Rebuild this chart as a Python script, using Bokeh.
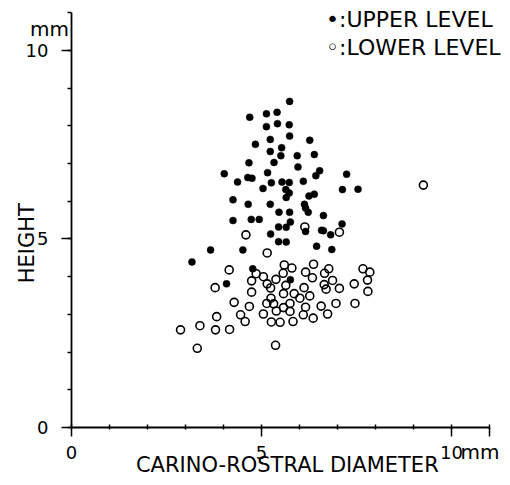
from bokeh.plotting import figure
from bokeh.models import Range1d, FixedTicker, Label
from bokeh.embed import file_html
from bokeh.resources import INLINE
import math

# Upper level (filled) measurements: carino-rostral diameter (mm), height (mm)
upper_x = [5.74, 4.69, 5.13, 5.41, 5.13, 5.42, 5.73, 5.74, 5.23, 6.27, 4.84, 5.53, 5.23, 5.51, 5.94,
           6.39, 4.67, 5.33, 5.96, 4.02, 5.16, 4.64, 4.75, 6.43, 6.53, 7.24, 4.37, 5.26, 5.54, 5.73,
           6.10, 5.04, 5.64, 5.73, 7.13, 7.54, 4.25, 4.65, 5.23, 5.65, 6.25, 6.39, 6.13, 6.16, 6.23,
           5.46, 5.74, 4.25, 4.73, 4.94, 6.63, 7.12, 5.45, 5.65, 5.76, 6.16, 6.58, 6.63, 5.24, 6.82,
           5.45, 5.65, 6.45, 4.51, 3.66, 6.85, 3.17, 4.77, 5.76, 4.08]
upper_y = [8.65, 8.23, 8.32, 8.36, 7.98, 8.06, 8.03, 7.73, 7.64, 7.62, 7.51, 7.42, 7.32, 7.21, 7.21,
           7.24, 7.02, 7.03, 6.91, 6.73, 6.76, 6.63, 6.61, 6.68, 6.81, 6.72, 6.51, 6.49, 6.51, 6.50,
           6.53, 6.34, 6.31, 6.22, 6.31, 6.32, 6.04, 5.92, 5.92, 6.10, 6.14, 6.19, 5.92, 5.82, 5.71,
           5.71, 5.71, 5.49, 5.52, 5.52, 5.62, 5.40, 5.32, 5.31, 5.45, 5.20, 5.23, 5.22, 5.13, 5.11,
           4.93, 4.92, 4.81, 4.71, 4.71, 4.72, 4.39, 4.21, 3.92, 3.81]

# Lower level (open) measurements
lower_x = [9.26, 6.14, 7.05, 4.59, 5.15, 5.60, 5.80, 6.37, 4.15, 6.16, 6.77, 6.66, 7.67, 7.85, 5.57,
           4.86, 5.05, 5.38, 6.34, 6.87, 7.79, 4.74, 5.15, 5.24, 5.64, 6.65, 7.44, 3.78, 6.12, 6.70,
           7.05, 4.74, 5.58, 5.86, 7.80, 6.01, 5.25, 6.27, 4.28, 5.14, 5.32, 5.75, 6.96, 7.46, 4.68,
           5.58, 6.16, 6.57, 5.39, 5.75, 4.45, 5.05, 6.10, 6.74, 3.82, 6.36, 4.57, 5.26, 5.49, 5.83,
           3.38, 2.87, 3.79, 4.16, 3.31, 5.37]
lower_y = [6.43, 5.32, 5.18, 5.11, 4.63, 4.31, 4.23, 4.33, 4.18, 4.12, 4.21, 4.09, 4.21, 4.12, 4.09,
           4.08, 4.00, 3.93, 3.97, 3.90, 3.91, 3.89, 3.81, 3.70, 3.77, 3.79, 3.81, 3.71, 3.71, 3.67,
           3.69, 3.59, 3.55, 3.55, 3.61, 3.43, 3.43, 3.49, 3.32, 3.29, 3.28, 3.29, 3.29, 3.29, 3.21,
           3.18, 3.19, 3.22, 3.09, 3.08, 2.99, 3.01, 2.99, 3.01, 2.94, 2.90, 2.81, 2.80, 2.79, 2.81,
           2.70, 2.59, 2.59, 2.60, 2.10, 2.18]

x_major = [0, 5, 10, 11]
x_labels = {0: "0", 5: "5", 10: "10", 11: ""}
y_major = [0, 5, 10]
y_labels = {0: "0", 5: "5", 10: "10"}
minor = list(range(0, 12))

FONT = "DejaVu Sans"

p = figure(width=508, height=480, output_backend="svg", toolbar_location=None,
           x_range=Range1d(-1.868, 11.5), y_range=Range1d(-1.406, 11.326),
           min_border_left=0, min_border_right=0, min_border_top=0, min_border_bottom=0)
p.outline_line_color = None
p.grid.visible = False
p.background_fill_color = "white"
p.border_fill_color = "white"

p.xaxis.fixed_location = 0
p.yaxis.fixed_location = 0
p.xaxis.bounds = (0, 11)
p.yaxis.bounds = (0, 11)

p.xaxis.ticker = FixedTicker(ticks=x_major, minor_ticks=minor)
p.yaxis.ticker = FixedTicker(ticks=y_major, minor_ticks=minor)
p.xaxis.major_label_overrides = x_labels
p.yaxis.major_label_overrides = y_labels

for ax in (p.xaxis, p.yaxis):
    ax.axis_line_width = 1.8
    ax.axis_line_color = "black"
    ax.major_tick_line_width = 1.5
    ax.minor_tick_line_width = 1.5
    ax.major_tick_line_color = "black"
    ax.minor_tick_line_color = "black"
    ax.major_label_text_font = FONT
    ax.major_label_text_font_size = "18px"
    ax.major_label_text_color = "black"

p.xaxis.major_tick_in = 0
p.xaxis.major_tick_out = 9
p.xaxis.minor_tick_in = 3
p.xaxis.minor_tick_out = 2
p.xaxis.major_label_standoff = 10

p.yaxis.major_tick_in = 0
p.yaxis.major_tick_out = 10
p.yaxis.minor_tick_in = 0
p.yaxis.minor_tick_out = 4
p.yaxis.major_label_standoff = 13

p.scatter(lower_x, lower_y, marker="circle", size=8, fill_color=None,
          line_color="black", line_width=1.6)
p.scatter(upper_x, upper_y, marker="circle", size=7, fill_color="black",
          line_color="black", line_width=0.5)

def lab(text, x, y, size, align="left", angle=0.0):
    p.add_layout(Label(x=x, y=y, text=text, text_font=FONT, text_font_size=size,
                       text_align=align, text_baseline="middle", angle=angle,
                       text_color="black"))

lab("CARINO-ROSTRAL DIAMETER", 5.68, -1.0, "21px", align="center")
lab("HEIGHT", -1.17, 4.89, "21px", align="center", angle=math.pi / 2)
lab("mm", -0.58, 10.57, "20px", align="center")
lab("mm", 10.24, -0.66, "20px", align="left")
lab("\u2022:UPPER LEVEL", 6.70, 10.81, "22px")
lab("\u25e6:LOWER LEVEL", 6.70, 10.07, "22px")

open("out.html", "w").write(file_html(p, INLINE))
